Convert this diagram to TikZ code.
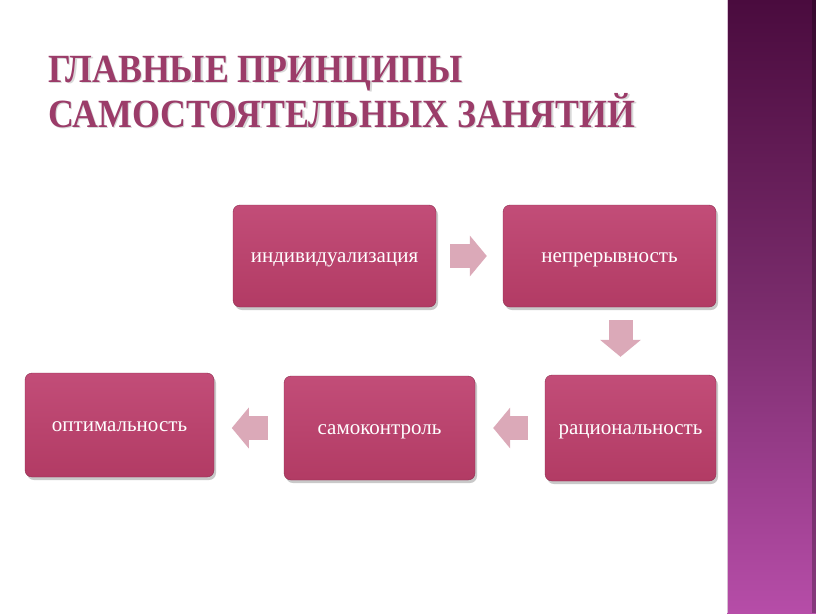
\documentclass[tikz,border=0pt]{standalone}
\usepackage{fontspec}
\setmainfont{Liberation Serif}
\usetikzlibrary{arrows.meta,shadows,calc}
\definecolor{titlec}{HTML}{9B3C69}
\definecolor{boxtop}{HTML}{C24D78}
\definecolor{boxbot}{HTML}{B23B64}
\definecolor{arrc}{HTML}{DBA9B8}
\definecolor{bartop}{HTML}{4A0B3E}
\definecolor{barmid}{HTML}{7A2C6C}
\definecolor{barbot}{HTML}{B64DA8}
\tikzset{
  pbox/.style={rounded corners=7pt, top color=boxtop, bottom color=boxbot,
    draw=boxbot!80!black, line width=0.4pt, text=white,
    font=\fontsize{21}{24}\selectfont, inner sep=2pt, text height=16pt, text depth=4pt,
    drop shadow={shadow xshift=2pt, shadow yshift=-3pt, opacity=0.35, fill=black!60}},
  barrow/.style={draw=arrc, line width=24pt,
    -{Triangle[width=40pt,length=17pt]}},
  titletext/.style={font=\bfseries\fontsize{40}{44}\selectfont, text=titlec, anchor=base west, inner sep=0pt, xscale=0.896}
}
\begin{document}
\begin{tikzpicture}[x=1pt,y=-1pt]
\useasboundingbox (0,0) rectangle (816,613);
\fill[white] (0,0) rectangle (816,613);
% side bar
\shade[top color=bartop, bottom color=barbot, middle color=barmid] (727,0) rectangle (816,613);
\fill[black, opacity=0.25] (812,0) rectangle (816,613);
\draw[white!70!barmid, line width=1pt] (727.5,0) -- (727.5,613);
% title
\node[titletext, text=black!25, opacity=0.6] at (49.5,83.5) {ГЛАВНЫЕ ПРИНЦИПЫ};
\node[titletext] (t1) at (48,82) {ГЛАВНЫЕ ПРИНЦИПЫ};
\node[titletext, text=black!25, opacity=0.6] at (49.5,128.5) {САМОСТОЯТЕЛЬНЫХ ЗАНЯТИЙ};
\node[titletext] (t2) at (48,127) {САМОСТОЯТЕЛЬНЫХ ЗАНЯТИЙ};
% boxes
\node[pbox, minimum width=203pt, minimum height=102pt] (ind) at (334.5,256) {индивидуализация};
\node[pbox, minimum width=213pt, minimum height=102pt] (nep) at (609.5,256) {непрерывность};
\node[pbox, minimum width=171pt, minimum height=106pt] (rac) at (630.5,428) {рациональность};
\node[pbox, minimum width=191pt, minimum height=104pt] (sam) at (379.5,428) {самоконтроль};
\node[pbox, minimum width=189pt, minimum height=104pt] (opt) at (119.5,425) {оптимальность};
% arrows
\draw[barrow] ($(ind.east)+(14,0)$) -- ($(nep.west)+(-16,0)$);
\draw[barrow] ($(nep.south)+(11,13)$) -- ($(rac.north)+(-10,-18)$);
\draw[barrow] ($(rac.west)+(-17,0)$) -- ($(sam.east)+(18,0)$);
\draw[barrow] ($(sam.west)+(-16,0)$) -- ($(sam.west)+(-52,0)$);
\end{tikzpicture}
\end{document}
